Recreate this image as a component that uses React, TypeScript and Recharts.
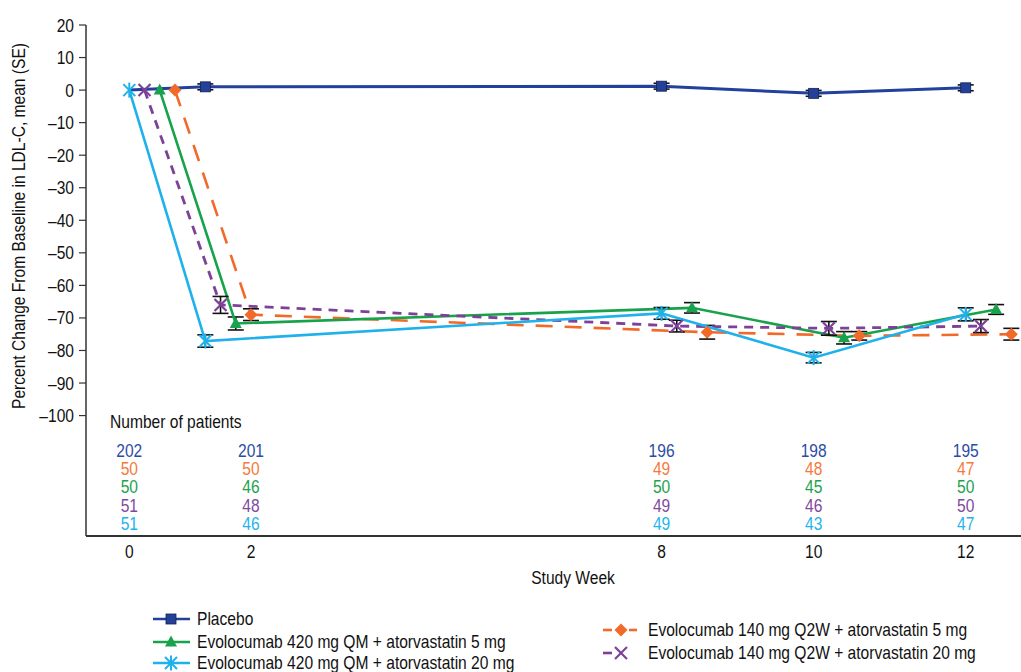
import React from 'react';
import { LineChart, Line, XAxis, YAxis, ErrorBar, ReferenceDot } from 'recharts';

const FONT = "'Liberation Sans', Arial, sans-serif";
const SX = 0.82; // horizontal condensing to mimic a narrow face
const FS = 19;

// Visits (study week) and where each visit sits on the plotted x scale
const weeks = [0, 2, 8, 10, 12];
const weekAxisPos = [1, 2, 8, 10, 12];
const tickPositions = [1, 2.6, 8, 10, 12];
const tickLabels = ['0', '2', '8', '10', '12'];
const yTicks = [20, 10, 0, -10, -20, -30, -40, -50, -60, -70, -80, -90, -100];

// Mean percent change and SE per arm
const placeboMean = [0, 1.0, 1.2, -1.0, 0.7];
const placeboSE = [0, 0.9, 0.9, 0.9, 0.9];
const qm5Mean = [0, -71.7, -66.9, -76.1, -67.4];
const qm5SE = [null, 2.0, 1.6, 1.9, 1.5];
const qm20Mean = [0, -77.1, -68.6, -82.2, -68.9];
const qm20SE = [null, 1.9, 1.8, 1.6, 2.0];
const q2w5Mean = [0, -69.0, -74.4, -75.5, -75.0];
const q2w5SE = [null, 1.8, 2.1, 1.3, 1.8];
const q2w20Mean = [0, -66.0, -72.5, -73.2, -72.5];
const q2w20SE = [null, 2.6, 1.8, 2.1, 2.0];

// Number of patients per visit
const nPlacebo = [202, 201, 196, 198, 195];
const nQ2W5 = [50, 50, 49, 48, 47];
const nQM5 = [50, 46, 50, 45, 50];
const nQ2W20 = [51, 48, 49, 46, 50];
const nQM20 = [51, 46, 49, 43, 47];

const C_PLACEBO = '#23419B';
const C_GREEN = '#18A24B';
const C_CYAN = '#1EB1EC';
const C_ORANGE = '#F26A2A';
const C_PURPLE = '#7D4197';

type Kind = 'square' | 'triangle' | 'star' | 'diamond' | 'x';

const series = [
  { key: 'placebo', name: 'Placebo', mean: placeboMean, se: placeboSE, color: C_PLACEBO, offset: 0, dash: undefined as string | undefined, kind: 'square' as Kind, width: 3, hideBase: true },
  { key: 'q2w5', name: 'Evolocumab 140 mg Q2W + atorvastatin 5 mg', mean: q2w5Mean, se: q2w5SE, color: C_ORANGE, offset: 0.6, dash: '17 12', kind: 'diamond' as Kind, width: 2.6, hideBase: false },
  { key: 'qm5', name: 'Evolocumab 420 mg QM + atorvastatin 5 mg', mean: qm5Mean, se: qm5SE, color: C_GREEN, offset: 0.4, dash: undefined, kind: 'triangle' as Kind, width: 2.6, hideBase: false },
  { key: 'q2w20', name: 'Evolocumab 140 mg Q2W + atorvastatin 20 mg', mean: q2w20Mean, se: q2w20SE, color: C_PURPLE, offset: 0.2, dash: '9 7', kind: 'x' as Kind, width: 2.8, hideBase: false },
  { key: 'qm20', name: 'Evolocumab 420 mg QM + atorvastatin 20 mg', mean: qm20Mean, se: qm20SE, color: C_CYAN, offset: 0, dash: undefined, kind: 'star' as Kind, width: 2.6, hideBase: false },
];

const nRows = [
  { values: nPlacebo, color: '#2C4CA4' },
  { values: nQ2W5, color: '#F47A3C' },
  { values: nQM5, color: '#1EA24E' },
  { values: nQ2W20, color: '#7F4A9E' },
  { values: nQM20, color: '#24B3EE' },
];
const TABLE_TOP = -110.6;
const ROW_STEP = 5.62;

function NText({ x, y, anchor = 'start', fill = '#111', rotate = 0, children }: any) {
  const t = `translate(${x},${y})${rotate ? ` rotate(${rotate})` : ''} scale(${SX},1)`;
  return (
    <text transform={t} x={0} y={0} textAnchor={anchor} dominantBaseline="central" fontSize={FS} fontFamily={FONT} fill={fill}>
      {children}
    </text>
  );
}

function Marker({ kind, cx, cy, color }: { kind: Kind; cx: number; cy: number; color: string }) {
  switch (kind) {
    case 'square':
      return <rect x={cx - 5} y={cy - 5} width={10} height={10} fill={color} stroke="#14204a" strokeWidth={0.8} />;
    case 'triangle':
      return <polygon points={`${cx},${cy - 6.5} ${cx + 6},${cy + 4.5} ${cx - 6},${cy + 4.5}`} fill={color} />;
    case 'diamond':
      return <polygon points={`${cx},${cy - 6.5} ${cx + 6.5},${cy} ${cx},${cy + 6.5} ${cx - 6.5},${cy}`} fill={color} />;
    case 'x':
      return (
        <g stroke={color} strokeWidth={2.2}>
          <line x1={cx - 6} y1={cy - 6} x2={cx + 6} y2={cy + 6} />
          <line x1={cx - 6} y1={cy + 6} x2={cx + 6} y2={cy - 6} />
        </g>
      );
    case 'star':
    default:
      return (
        <g stroke={color} strokeWidth={2}>
          <line x1={cx - 6} y1={cy - 6} x2={cx + 6} y2={cy + 6} />
          <line x1={cx - 6} y1={cy + 6} x2={cx + 6} y2={cy - 6} />
          <line x1={cx} y1={cy - 7.5} x2={cx} y2={cy + 7.5} />
        </g>
      );
  }
}

function LegendItem({ s, x, y }: { s: (typeof series)[number]; x: number; y: number }) {
  const dashed = !!s.dash;
  return (
    <div style={{ position: 'absolute', left: x, top: y - 12, height: 24, display: 'flex', alignItems: 'center', whiteSpace: 'nowrap' }}>
      <svg width={40} height={24} style={{ display: 'block' }}>
        {dashed ? (
          <>
            <line x1={0} y1={12} x2={9} y2={12} stroke={s.color} strokeWidth={2.6} />
            {s.kind === 'diamond' && <line x1={26} y1={12} x2={34} y2={12} stroke={s.color} strokeWidth={2.6} />}
          </>
        ) : (
          <line x1={0} y1={12} x2={37} y2={12} stroke={s.color} strokeWidth={2.6} />
        )}
        <Marker kind={s.kind} cx={18} cy={12} color={s.color} />
      </svg>
      <span
        style={{
          marginLeft: dashed ? 5 : 4,
          fontSize: FS,
          fontFamily: FONT,
          color: '#111',
          lineHeight: '24px',
          display: 'inline-block',
          transform: `scaleX(${SX})`,
          transformOrigin: 'left center',
        }}
      >
        {s.name}
      </span>
    </div>
  );
}

export default function App() {
  const tickFmt = (v: number) => {
    const i = tickPositions.findIndex((p) => Math.abs(p - v) < 1e-6);
    return i >= 0 ? tickLabels[i] : '';
  };
  const yFmt = (v: number) => (v < 0 ? '\u2013' + Math.abs(v) : String(v));
  const byKey = (k: string) => series.find((s) => s.key === k)!;

  return (
    <div style={{ position: 'fixed', left: 0, top: 0, width: 1021, height: 672, overflow: 'hidden', background: '#fff', fontFamily: FONT }}>
      <LineChart width={1021} height={672} margin={{ top: 25, right: 0, left: 0, bottom: 106 }} style={{ fontFamily: FONT }}>
        <XAxis
          type="number"
          dataKey="x"
          domain={[0.4306, 12.727]}
          ticks={tickPositions}
          interval={0}
          tickFormatter={tickFmt}
          tickLine={false}
          tickSize={0}
          tickMargin={8}
          allowDataOverflow
          height={30}
          axisLine={{ stroke: '#333', strokeWidth: 2 }}
          tick={(p: any) => (
            <NText key={`xt-${p.index}`} x={p.x} y={551} anchor="middle">
              {tickFmt(p.payload.value)}
            </NText>
          )}
          label={{
            content: () => (
              <NText x={573} y={577} anchor="middle">
                Study Week
              </NText>
            ),
          }}
        />
        <YAxis
          type="number"
          domain={[-137, 20]}
          ticks={yTicks}
          interval={0}
          tickFormatter={yFmt}
          width={86}
          tickSize={7}
          tickMargin={5}
          allowDataOverflow
          axisLine={{ stroke: '#333', strokeWidth: 1.5 }}
          tickLine={{ stroke: '#333', strokeWidth: 1.2 }}
          tick={(p: any) => (
            <NText key={`yt-${p.index}`} x={p.x} y={p.y} anchor="end">
              {yFmt(p.payload.value)}
            </NText>
          )}
          label={{
            content: () => (
              <NText x={18} y={226} rotate={-90} anchor="middle">
                Percent Change From Baseline in LDL-C, mean (SE)
              </NText>
            ),
          }}
        />
        {series.map((s) => {
          const data = weeks.map((w, i) => ({ week: w, x: weekAxisPos[i] + s.offset, y: s.mean[i], se: s.se[i] }));
          return (
            <Line
              key={s.key}
              data={data}
              dataKey="y"
              name={s.name}
              stroke={s.color}
              strokeWidth={s.width}
              strokeDasharray={s.dash}
              isAnimationActive={false}
              activeDot={false}
              dot={(p: any) => {
                if (s.hideBase && p.payload && p.payload.week === 0) return <g key={`${s.key}-d${p.index}`} />;
                return (
                  <g key={`${s.key}-d${p.index}`}>
                    <Marker kind={s.kind} cx={p.cx} cy={p.cy} color={s.color} />
                  </g>
                );
              }}
            >
              <ErrorBar dataKey="se" width={8} stroke="#111" strokeWidth={1.6} direction="y" />
            </Line>
          );
        })}
        {nRows.map((row, r) =>
          row.values.map((n, i) => (
            <ReferenceDot
              key={`n-${r}-${i}`}
              x={tickPositions[i]}
              y={TABLE_TOP - r * ROW_STEP}
              r={0}
              fill="none"
              stroke="none"
              ifOverflow="visible"
              label={{
                content: (lp: any) => {
                  const vb = lp.viewBox || {};
                  const cx = (vb.x ?? 0) + (vb.width ?? 0) / 2;
                  const cy = (vb.y ?? 0) + (vb.height ?? 0) / 2;
                  return (
                    <NText x={cx} y={cy} anchor="middle" fill={row.color}>
                      {String(n)}
                    </NText>
                  );
                },
              }}
            />
          ))
        )}
      </LineChart>
      <div
        style={{
          position: 'absolute',
          left: 110,
          top: 410,
          fontSize: FS,
          fontFamily: FONT,
          color: '#111',
          lineHeight: '24px',
          whiteSpace: 'nowrap',
          transform: `scaleX(${SX})`,
          transformOrigin: 'left center',
        }}
      >
        Number of patients
      </div>
      <LegendItem s={byKey('placebo')} x={153} y={619} />
      <LegendItem s={byKey('qm5')} x={153} y={642} />
      <LegendItem s={byKey('qm20')} x={153} y={663} />
      <LegendItem s={byKey('q2w5')} x={603} y={630} />
      <LegendItem s={byKey('q2w20')} x={603} y={653} />
    </div>
  );
}
